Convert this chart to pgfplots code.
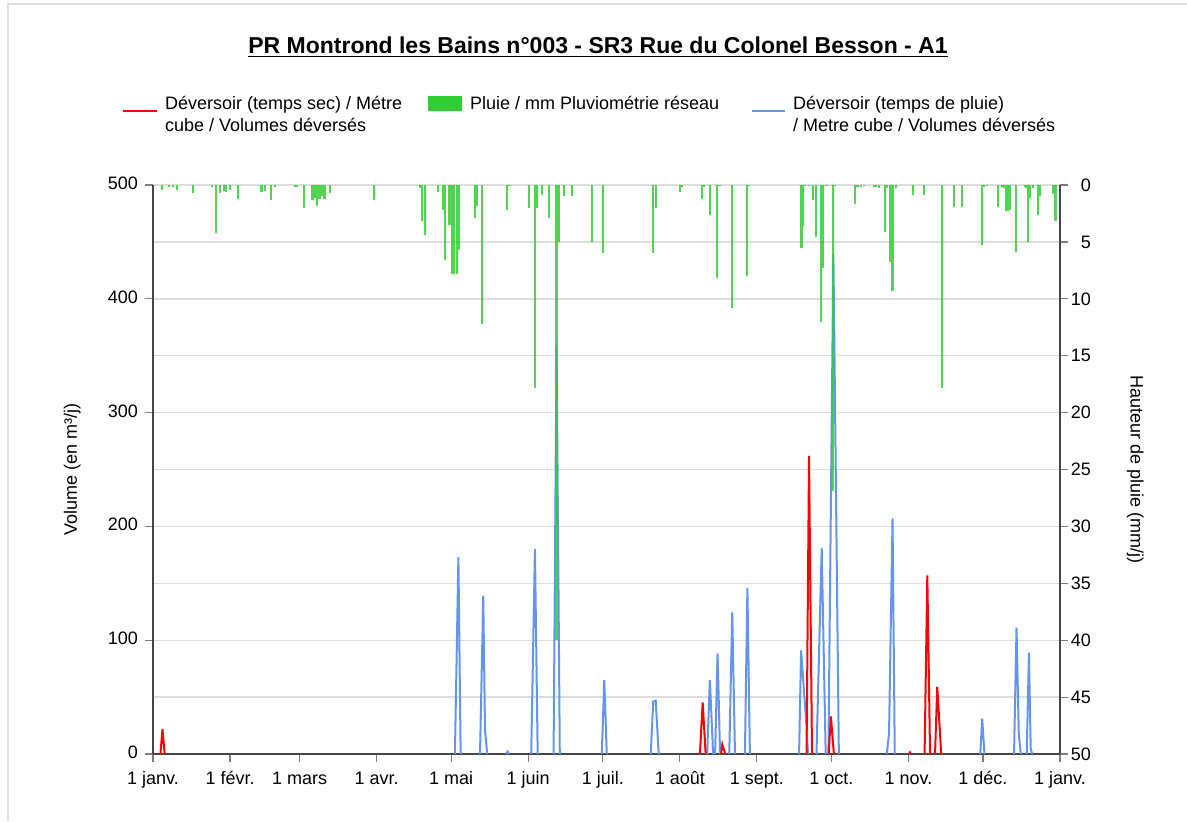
\documentclass[border=0pt]{standalone}
\usepackage{fontspec}
\setmainfont{Liberation Sans}
\usepackage{pgfplots}
\pgfplotsset{compat=1.18}
\definecolor{rouge}{RGB}{255,0,0}
\definecolor{bleu}{RGB}{100,149,237}
\definecolor{vert}{RGB}{50,205,50}
\definecolor{axisgray}{RGB}{70,70,70}
\definecolor{gridgray}{RGB}{221,221,221}
\begin{document}
\begin{tikzpicture}
\useasboundingbox (0pt,0pt) rectangle (593.5pt,410.5pt);
\draw[gray!25, line width=0.8pt] (4pt,0pt) -- (4pt,408.5pt) -- (593.5pt,408.5pt);
\node[font=\fontsize{11.5}{14}\selectfont\bfseries] at (299pt,387pt) {\underline{PR Montrond les Bains n°003 - SR3 Rue du Colonel Besson - A1}};
% legend
\draw[rouge, line width=1.2pt] (61.5pt,355pt) -- (78.5pt,355pt);
\node[anchor=west, align=left, font=\fontsize{9}{11}\selectfont] at (79pt,353.5pt) {Déversoir (temps sec) / Métre\\cube / Volumes déversés};
\fill[vert] (214pt,355pt) rectangle (231pt,362.5pt);
\node[anchor=west, font=\fontsize{9}{11}\selectfont] at (231.5pt,359pt) {Pluie / mm Pluviométrie réseau};
\draw[bleu, line width=1.2pt] (376pt,355pt) -- (392.5pt,355pt);
\node[anchor=west, align=left, font=\fontsize{9}{11}\selectfont] at (393pt,353.5pt) {Déversoir (temps de pluie)\\/ Metre cube / Volumes déversés};

\begin{axis}[
  at={(76.5pt,33.5pt)}, anchor=south west,
  scale only axis, width=453.5pt, height=284.5pt,
  xmin=0, xmax=365, ymin=0, ymax=500,
  axis x line*=bottom, axis y line*=left,
  axis line style={axisgray, line width=1pt, -},
  xtick={0,31,59,90,120,151,181,212,243,273,304,334,365},
  xticklabels={1 janv.,1 févr.,1 mars,1 avr.,1 mai,1 juin,1 juil.,1 août,1 sept.,1 oct.,1 nov.,1 déc.,1 janv.},
  typeset ticklabels with strut,
  ytick={0,100,...,500},
  minor ytick={50,150,...,450},
  ymajorgrids, yminorgrids,
  major grid style={gridgray, line width=0.7pt},
  minor grid style={gridgray, line width=0.7pt},
  tick style={axisgray!70, line width=0.6pt},
  major tick length=4pt, minor tick length=0pt,
  tick align=outside,
  ticklabel style={font=\fontsize{9}{11}\selectfont},
  /pgf/number format/assume math mode=true,
  ylabel={Volume (en m³/j)},
  every axis y label/.style={at={(axis description cs:-0.089,0.5)}, rotate=90, anchor=center, font=\fontsize{9}{11}\selectfont},
  unbounded coords=jump,
]
\addplot[bleu, line width=1pt] coordinates {
(121.5,0) (122.9,173) (123.8,0) (124,nan)
(131.6,0) (132.9,139) (133.6,21) (134.5,0) (135,nan)
(142.2,0) (142.7,2) (143.2,0) (144,nan)
(152.2,0) (153.7,180) (154.8,0) (155,nan)
(161.2,0) (162.4,359) (163.7,0) (164,nan)
(180.6,0) (181.6,65) (182.6,0) (183,nan)
(200.3,0) (201.3,46) (202.3,47) (203.5,0) (204,nan)
(223,0) (224.1,65) (225.4,0) (226,nan)
(226.2,0) (227.2,88.5) (228.2,0) (229,nan)
(231.9,0) (233.1,124.5) (234.2,0) (235,nan)
(238.2,0) (239.2,146) (240.2,0) (241,nan)
(260,0) (260.8,91) (263,24) (263.6,0) (264,nan)
(267,0) (269.1,181) (270.7,0) (271,nan)
(271.8,0) (273.8,440) (276,0) (277,nan)
(295.3,0) (296.2,18) (297.6,207) (298.5,0) (299,nan)
(332.9,0) (333.7,31) (334.6,0) (335,nan)
(346.5,0) (347.5,111) (348.4,18) (349.2,0) (350,nan)
(351.6,0) (352.5,89) (353.2,5) (353.8,0)
};
\addplot[rouge, line width=1pt] coordinates {
(3,0) (3.8,21.7) (4.7,0) (5,nan)
(220.1,0) (221.2,45.4) (222.4,0) (223,nan)
(228.6,0) (229.1,8.5) (230.3,0) (231,nan)
(263,0) (264,262) (265.2,0) (266,nan)
(271.9,0) (272.8,33) (274,0) (275,nan)
(304.2,0) (304.6,1.5) (305,0) (306,nan)
(310.5,0) (311.6,157) (312.7,0) (313,nan)
(314.7,0) (315.6,59) (317.2,0)
};
\end{axis}

\begin{axis}[
  at={(76.5pt,33.5pt)}, anchor=south west,
  scale only axis, width=453.5pt, height=284.5pt,
  xmin=0, xmax=365, ymin=0, ymax=50, y dir=reverse,
  axis x line=none, axis y line*=right,
  axis line style={axisgray, line width=1pt, -},
  ytick={0,5,...,50},
  tick style={axisgray!70, line width=0.6pt},
  major tick length=4pt, tick align=outside,
  ticklabel style={font=\fontsize{9}{11}\selectfont},
  yticklabel style={anchor=east, xshift=15pt},
  /pgf/number format/assume math mode=true,
  ylabel={Hauteur de pluie (mm/j)},
  every axis y label/.style={at={(axis description cs:1.083,0.5)}, rotate=-90, anchor=center, font=\fontsize{9}{11}\selectfont},
]
\addplot[ycomb, vert, opacity=0.85, line width=1.1pt] coordinates {
(3.5,0.4) (6.5,0.2) (8,0.2) (9.5,0.4) (16.2,0.7) (23.6,0.2) (25.4,4.2) (27,0.7)
(28.5,0.5) (29.5,0.6) (31,0.4) (34.3,1.2) (43.7,0.6) (45,0.5) (47.4,1.3) (49,0.2)
(57,0.2) (58,0.2) (60.8,2.0) (64.2,1.3) (65,1.1) (66,1.8) (67,1.2) (68,1.0) (69,1.2)
(71.2,0.7) (88.9,1.3) (107.4,0.3) (108.1,3.2) (109.5,4.4) (114.8,0.6) (116.6,2.2)
(117.5,6.6) (119.3,3.5) (120.2,7.8) (121.2,7.8) (122.2,7.8) (122.9,5.7) (129.6,2.9)
(130.5,1.8) (132.5,12.2) (142.3,2.2) (143.5,0.1) (151.4,2.0) (153.7,17.8) (154.6,2.0)
(156.4,0.9) (159.5,2.9) (162.4,40) (163.4,5.0) (165.4,1.0) (168.5,1.0) (176.5,5.0)
(181.2,6.0) (201.3,6.0) (202.3,2.0) (212.1,0.6) (213,0.15) (220.8,1.2) (221.5,0.2)
(224.1,2.6) (227.1,8.2) (228,0.1) (233.1,10.8) (238.9,8.0) (240,0.1) (261,5.5)
(261.7,3.6) (262.5,0.1) (264,0.1) (265.7,1.3) (266.8,4.6) (268.8,12.0) (269.5,7.3)
(271,0.1) (273.8,26.9) (274.5,0.1) (282.5,1.7) (283.5,0.2) (285,0.2) (286,0.1)
(290,0.2) (291,0.2) (292,0.3) (294.6,4.1) (295.5,0.3) (296.6,6.8) (297.6,9.3)
(299,0.3) (305.7,0.9) (310.4,0.9) (317.6,17.8) (322.2,1.9) (325.4,1.9) (333.5,5.3)
(334.5,0.2) (335.5,0.1) (340.2,1.9) (341.5,0.2) (342.5,0.3) (343.3,2.3) (344.2,2.3)
(345,2.2) (347.3,5.9) (351,0.2) (351.5,0.3) (352.1,5.0) (353,1.1) (354,0.3)
(356.3,2.6) (357,1.0) (362.3,0.8) (363.2,3.2)
};
\end{axis}
\end{tikzpicture}
\end{document}
